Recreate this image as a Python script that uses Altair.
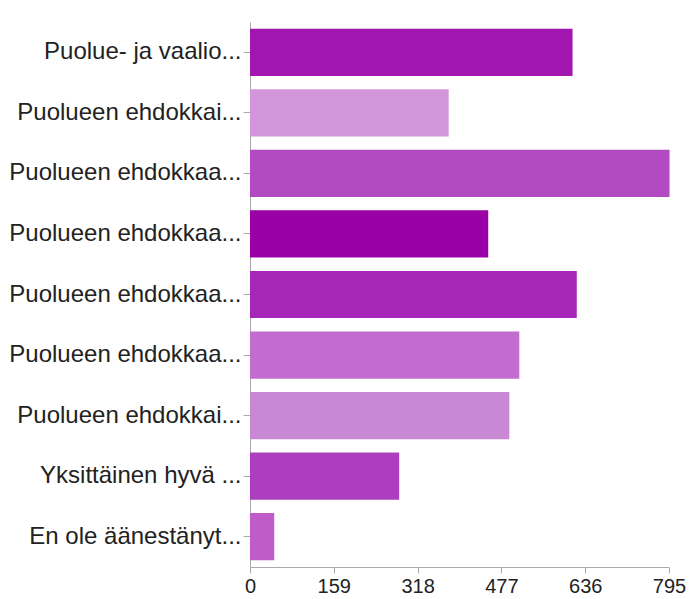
import altair as alt
import pandas as pd

labels = [
    "Puolue- ja vaalio...",
    "Puolueen ehdokkai...",
    "Puolueen ehdokkaa...",
    "Puolueen ehdokkaa...",
    "Puolueen ehdokkaa...",
    "Puolueen ehdokkaa...",
    "Puolueen ehdokkai...",
    "Yksittäinen hyvä ...",
    "En ole äänestänyt...",
]
values = [612, 377, 796, 452, 620, 511, 492, 283, 46]
colors = ["#a216b0", "#d496da", "#b24ac2", "#9900a6", "#a626b8",
          "#c36ccf", "#c888d4", "#ae3ec0", "#bf5cca"]
ticks = [0, 159, 318, 477, 636, 795]

df = pd.DataFrame({
    "idx": list(range(len(labels))),
    "label": labels,
    "value": values,
    "color": colors,
})

label_expr = "[" + ",".join("'" + l + "'" for l in labels) + "][datum.value]"

chart = alt.Chart(df).mark_bar().encode(
    y=alt.Y("idx:O", sort=None, title=None,
            scale=alt.Scale(paddingInner=0.22, paddingOuter=0.11),
            axis=alt.Axis(labelExpr=label_expr, labelFontSize=24,
                          labelColor="#222", labelFont="Liberation Sans",
                          tickSize=7, tickColor="#aaa", domainColor="#aaa",
                          labelPadding=2, grid=False, labelLimit=400)),
    x=alt.X("value:Q", title=None,
            scale=alt.Scale(domain=[0, 795], nice=False),
            axis=alt.Axis(values=ticks, labelFontSize=20, labelColor="#222",
                          labelFont="Liberation Sans", tickSize=6,
                          tickColor="#aaa", domainColor="#aaa", grid=False,
                          labelPadding=3, labelFlush=False)),
    color=alt.Color("color:N", scale=None, legend=None),
).properties(
    width=419,
    height=545,
    autosize=alt.AutoSizeParams(type="none"),
    padding={"left": 242, "top": 14, "right": 17, "bottom": 32},
).configure_view(stroke=None)

chart.save("out.html", embed_options={"renderer": "svg", "actions": False})
